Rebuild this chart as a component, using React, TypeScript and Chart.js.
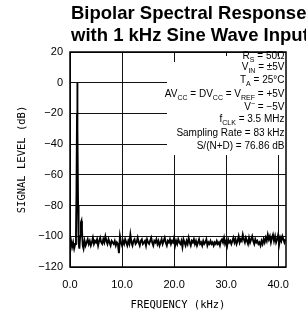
import React, { useEffect, useRef } from "react";
import { Chart, registerables } from "chart.js";

Chart.register(...registerables);

// ---------- data ----------
const TITLE_LINES = ["Bipolar Spectral Response", "with 1 kHz Sine Wave Input"];
const X_TITLE = "FREQUENCY (kHz)";
const Y_TITLE = "SIGNAL LEVEL (dB)";
const X_TICKS = [0, 10, 20, 30, 40];
const X_MIN = 0;
const X_MAX = 41.5;
const Y_MIN = -120;
const Y_MAX = 20;
const Y_STEP = 20;

// fundamental + harmonic region (kHz, dB)
const PEAK_FREQ = [0.0, 0.2, 0.4, 0.6, 0.8, 1.0, 1.15, 1.25, 1.35, 1.4, 1.45, 1.55, 1.65, 1.8, 1.95, 2.1, 2.2, 2.3, 2.45, 2.6, 2.8, 3.0];
const PEAK_LEVEL = [-106, -103, -107, -104, -108, -105, -99, -70, -20, 0, -30, -80, -104, -108, -100, -91, -90, -96, -106, -108, -103, -106];

// noise floor, FFT bins from 3.2 kHz every 0.2 kHz
const NOISE_START = 3.2;
const NOISE_STEP = 0.2;
const NOISE_LEVEL = [
  -104, -102, -105, -103, -106, -104, -101, -105, -103, -104,
  -102, -106, -103, -101, -104, -105, -102, -104, -100, -103,
  -105, -102, -104, -106, -103, -104, -105, -103, -106, -104,
  -105, -111, -100, -104, -106, -103, -105, -102, -104, -106,
  -103, -105, -99, -104, -106, -103, -102, -105, -104, -101,
  -104, -106, -103, -102, -105, -104, -103, -106, -102, -104,
  -105, -103, -101, -104, -106, -103, -104, -102, -105, -103,
  -106, -104, -102, -105, -103, -101, -104, -106, -103, -104,
  -102, -105, -103, -104, -101, -106, -103, -105, -102, -104,
  -105, -103, -107, -102, -104, -106, -103, -105, -101, -104,
  -106, -103, -104, -102, -105, -103, -106, -104, -102, -105,
  -104, -106, -103, -105, -104, -102, -106, -104, -105, -103,
  -105, -104, -106, -104, -105, -103, -105, -104, -106, -103,
  -102, -104, -101, -105, -103, -106, -102, -104, -103, -105,
  -103, -101, -104, -102, -105, -103, -100, -104, -102, -103,
  -99, -102, -104, -101, -103, -105, -101, -104, -102, -100,
  -103, -105, -102, -104, -103, -105, -104, -106, -103, -105,
  -102, -104, -101, -103, -99, -102, -100, -104, -101, -99,
  -103, -100, -104, -102, -99, -105, -101, -103, -100, -102,
  -104, -102,
];

type Seg = { t: string; s?: "sub" | "sup" };
const CONDITIONS: Seg[][] = [
  [{ t: "R" }, { t: "S", s: "sub" }, { t: " = 50\u03A9" }],
  [{ t: "V" }, { t: "IN", s: "sub" }, { t: " = \u00B15V" }],
  [{ t: "T" }, { t: "A", s: "sub" }, { t: " = 25\u00B0C" }],
  [{ t: "AV" }, { t: "CC", s: "sub" }, { t: " = DV" }, { t: "CC", s: "sub" }, { t: " = V" }, { t: "REF", s: "sub" }, { t: " = +5V" }],
  [{ t: "V" }, { t: "\u2212", s: "sup" }, { t: " = \u22125V" }],
  [{ t: "f" }, { t: "CLK", s: "sub" }, { t: " = 3.5 MHz" }],
  [{ t: "Sampling Rate = 83 kHz" }],
  [{ t: "S/(N+D) = 76.86 dB" }],
];
const CONDITION_BASELINES = [59, 70, 83, 97, 110, 122, 136, 149];

// ---------- drawing helpers ----------
const SANS = "'Liberation Sans', Arial, Helvetica, sans-serif";
const MONO = "'DejaVu Sans Mono', 'Liberation Mono', monospace";

function drawRich(ctx: CanvasRenderingContext2D, segs: Seg[], right: number, baseline: number, size: number) {
  const main = `${size}px ${SANS}`;
  const small = `${Math.round(size * 0.72)}px ${SANS}`;
  const widths = segs.map((sg) => {
    ctx.font = sg.s ? small : main;
    return ctx.measureText(sg.t).width;
  });
  const total = widths.reduce((a, b) => a + b, 0);
  let x = right - total;
  segs.forEach((sg, i) => {
    ctx.font = sg.s ? small : main;
    const dy = sg.s === "sub" ? size * 0.3 : sg.s === "sup" ? -size * 0.4 : 0;
    ctx.fillText(sg.t, x, baseline + dy);
    x += widths[i];
  });
}

const overlayPlugin = {
  id: "overlay",
  beforeDatasetsDraw(chart: any) {
    const { ctx, chartArea } = chart;
    ctx.save();
    ctx.fillStyle = "#ffffff";
    ctx.fillRect(167, 62, chartArea.right - 167, 93);
    ctx.fillRect(218, chartArea.top + 4, chartArea.right - 218, 62 - chartArea.top - 4);
    ctx.restore();
  },
  afterDatasetsDraw(chart: any) {
    const { ctx, chartArea } = chart;
    ctx.save();
    ctx.strokeStyle = "#000";
    ctx.lineWidth = 1.5;
    ctx.strokeRect(chartArea.left, chartArea.top, chartArea.right - chartArea.left, chartArea.bottom - chartArea.top);
    ctx.restore();
  },
  afterDraw(chart: any) {
    const { ctx, chartArea } = chart;
    ctx.save();
    ctx.fillStyle = "#000";
    ctx.textBaseline = "alphabetic";
    // title
    ctx.textAlign = "left";
    ctx.font = `bold 18.5px ${SANS}`;
    ctx.fillText(TITLE_LINES[0], chartArea.left + 1, 19);
    ctx.fillText(TITLE_LINES[1], chartArea.left + 1, 41);
    // conditions
    CONDITIONS.forEach((segs, i) => drawRich(ctx, segs, chartArea.right - 1.5, CONDITION_BASELINES[i], 10));
    // axis titles
    ctx.font = `10.5px ${MONO}`;
    ctx.textAlign = "center";
    ctx.textBaseline = "middle";
    ctx.fillText(X_TITLE, (chartArea.left + chartArea.right) / 2, 305);
    ctx.translate(22, (chartArea.top + chartArea.bottom) / 2);
    ctx.rotate(-Math.PI / 2);
    ctx.fillText(Y_TITLE, 0, 0);
    ctx.restore();
  },
};

export default function App() {
  const ref = useRef<HTMLCanvasElement | null>(null);
  useEffect(() => {
    if (!ref.current) return;
    const points = [
      ...PEAK_FREQ.map((f, i) => ({ x: f, y: PEAK_LEVEL[i] })),
      ...NOISE_LEVEL.map((v, i) => ({ x: NOISE_START + i * NOISE_STEP, y: v })),
    ];
    const chart = new Chart(ref.current, {
      type: "line",
      data: {
        datasets: [
          {
            data: points,
            borderColor: "#000",
            borderWidth: 1.9,
            pointRadius: 0,
            tension: 0,
            fill: false,
          },
        ],
      },
      options: {
        animation: false,
        responsive: false,
        devicePixelRatio: 1,
        events: [],
        layout: { padding: { left: 0, top: 52, right: 20, bottom: 0 } },
        plugins: { legend: { display: false }, title: { display: false }, tooltip: { enabled: false } },
        scales: {
          x: {
            type: "linear",
            min: X_MIN,
            max: X_MAX,
            afterBuildTicks: (axis: any) => {
              axis.ticks = X_TICKS.map((v) => ({ value: v }));
            },
            afterFit: (axis: any) => {
              axis.height = 51;
            },
            grid: { color: "#111", lineWidth: 1, drawTicks: false },
            border: { display: false },
            ticks: {
              padding: 11,
              color: "#000",
              font: { family: SANS, size: 11 },
              maxRotation: 0,
              callback: (v: any) => Number(v).toFixed(1),
            },
          },
          y: {
            type: "linear",
            min: Y_MIN,
            max: Y_MAX,
            afterFit: (axis: any) => {
              axis.width = 70;
            },
            grid: { color: "#111", lineWidth: 1, drawTicks: false },
            border: { display: false },
            ticks: {
              stepSize: Y_STEP,
              padding: 7,
              color: "#000",
              font: { family: SANS, size: 11 },
              callback: (v: any) => (Number(v) < 0 ? "\u2212" + Math.abs(Number(v)) : String(v)),
            },
          },
        },
      },
      plugins: [overlayPlugin],
    } as any);
    return () => chart.destroy();
  }, []);

  return (
    <div style={{ position: "absolute", left: 0, top: 0, width: 306, height: 318, background: "#fff", overflow: "hidden" }}>
      <canvas ref={ref} width={306} height={318} style={{ display: "block", width: 306, height: 318 }} />
    </div>
  );
}
